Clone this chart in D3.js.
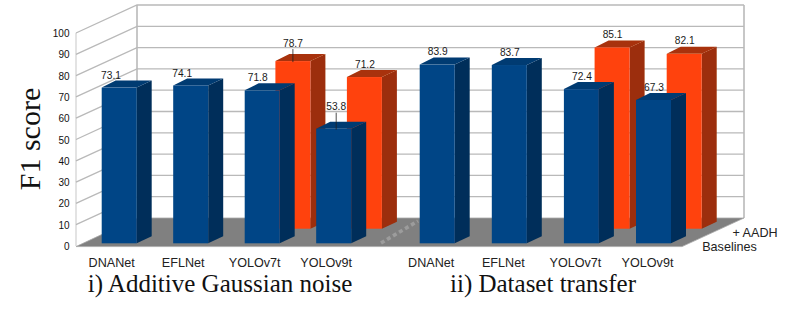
<!DOCTYPE html>
<html><head><meta charset="utf-8">
<script src="https://cdn.jsdelivr.net/npm/d3@7"></script>
<style>html,body{margin:0;padding:0;background:#fff}svg{display:block}</style>
</head><body><svg id="c" width="793" height="317"></svg>
<script>
const categories = ["DNANet","EFLNet","YOLOv7t","YOLOv9t"];
const yTicks = [0,10,20,30,40,50,60,70,80,90,100];
const baselinesNoise = [73.1,74.1,71.8,53.8];
const baselinesTransfer = [83.9,83.7,72.4,67.3];
const aadhCategories = ["YOLOv7t","YOLOv9t"];
const aadhNoise = [78.7,71.2];
const aadhTransfer = [85.1,82.1];
const seriesNames = ["Baselines","+ AADH"];
const panelTitles = ["i) Additive Gaussian noise","ii) Dataset transfer"];
const yTitle = "F1 score";

const svg = d3.select("#c");
const sans = "'Liberation Sans',Arial,sans-serif", serif = "'Liberation Serif','Times New Roman',serif";
const defs = svg.append("defs");
defs.append("filter").attr("id","soft").append("feGaussianBlur").attr("stdDeviation",0.45);

const y = d3.scaleLinear().domain([0,100]).range([246,33]);
const wall = {dx:61, dy:-28};
const floorRight = 682;
const x1 = d3.scalePoint().domain(categories).range([101.7,316.2]);
const x2 = d3.scalePoint().domain(categories).range([419.7,636]);
const barW = 35, side = {dx:15, dy:-7};
const planes = {base:{dx:0,dy:-2.7,front:"#004586",side:"#002f5a",top:"#003b72"},
                aadh:{dx:30.7,dy:-17.3,front:"#ff420e",side:"#9c2d08",top:"#a83008"}};

const g = svg.append("g").attr("filter","url(#soft)");
const grid = "#b9b9b9";
g.append("path").attr("d",`M${wall.dx+76} ${y(100)+wall.dy}V${y(0)+wall.dy}`).attr("stroke",grid).attr("stroke-width",1.6);
g.append("path").attr("d",`M76 ${y(100)}V${y(0)}`).attr("stroke","#d0d0d0").attr("stroke-width",1.2);
g.append("path").attr("d",`M744 ${y(100)+wall.dy}V${y(0)+wall.dy}`).attr("stroke",grid).attr("stroke-width",1.6);
g.selectAll(".grid").data(yTicks.slice(1)).join("path").attr("class","grid").attr("fill","none")
  .attr("stroke",grid).attr("stroke-width",1.3)
  .attr("d",d=>`M76 ${y(d)}L${76+wall.dx} ${y(d)+wall.dy}H744`);
g.append("path").attr("fill","#808080").attr("stroke","#a8a8a8").attr("stroke-width",0.8)
  .attr("d",`M76 ${y(0)+0.6}L${76+wall.dx} ${y(0)+wall.dy}H744L${floorRight} ${y(0)+0.6}Z`);
g.append("path").attr("d","M381 243L418 221").attr("stroke","#9c9c9c").attr("stroke-width",3.6).attr("stroke-dasharray","4 3").attr("fill","none");

function bar(sel,xv,v,p){
  const l=xv+p.dx, r=l+barW, b=y(0)+p.dy, t=y(v)+p.dy;
  const a=sel.append("g");
  a.append("path").attr("fill",p.side).attr("d",`M${r} ${t}L${r+side.dx} ${t+side.dy}V${b+side.dy}L${r} ${b}Z`);
  a.append("path").attr("fill",p.top).attr("d",`M${l} ${t}L${l+side.dx-1} ${t+side.dy}H${r+side.dx}L${r} ${t}Z`);
  a.append("rect").attr("x",l).attr("y",t).attr("width",barW).attr("height",b-t).attr("fill",p.front);
}
aadhCategories.forEach((c,i)=>{ bar(g,x1(c),aadhNoise[i],planes.aadh); });
aadhCategories.forEach((c,i)=>{ bar(g,x2(c),aadhTransfer[i],planes.aadh); });
categories.forEach((c,i)=>{ bar(g,x1(c),baselinesNoise[i],planes.base); });
categories.forEach((c,i)=>{ bar(g,x2(c),baselinesTransfer[i],planes.base); });

function label(xv,v,p,dx,dy,leader){
  const cx=xv+p.dx+dx, ty=y(v)+p.dy;
  if(leader) svg.append("path").attr("d",`M${cx} ${ty+dy+6}V${ty+1}`).attr("stroke","#222").attr("stroke-width",0.8);
  svg.append("text").attr("x",cx).attr("y",ty+dy).attr("dy","0.35em").attr("text-anchor","middle")
    .attr("font-family",sans).attr("font-size",10.2).attr("fill","#1a1a1a").text(v.toFixed(1));
}
label(x1("DNANet"),baselinesNoise[0],planes.base,9.3,-12);
label(x1("EFLNet"),baselinesNoise[1],planes.base,9,-12.5);
label(x1("YOLOv7t"),baselinesNoise[2],planes.base,13,-13);
label(x1("YOLOv9t"),baselinesNoise[3],planes.base,20,-22,true);
label(x1("YOLOv7t"),aadhNoise[0],planes.aadh,17.5,-18,true);
label(x1("YOLOv9t"),aadhNoise[1],planes.aadh,18,-13);
categories.forEach((c,i)=>label(x2(c),baselinesTransfer[i],planes.base,18,-13));
aadhCategories.forEach((c,i)=>label(x2(c),aadhTransfer[i],planes.aadh,18,-13.5));

const txt=(x,yy,s,size,fam,anchor)=>svg.append("text").attr("x",x).attr("y",yy).attr("text-anchor",anchor||"middle")
  .attr("font-family",fam).attr("font-size",size).attr("fill","#111").text(s);
yTicks.forEach(d=>txt(69.5,y(d)+0.5,d,10,sans,"end").attr("dy","0.35em"));
const xLabels=(scale,shift)=>categories.forEach(c=>txt(scale(c)+barW/2+shift,266.5,c,12.6,sans).attr("fill","#222"));
xLabels(x1,-7.5); xLabels(x2,-6);
txt(755,236.5,seriesNames[1],12.6,sans).attr("fill","#222");
txt(729.5,250.5,seriesNames[0],12.6,sans).attr("fill","#222");
txt(220,292,panelTitles[0],25,serif);
txt(543,292,panelTitles[1],25,serif);
svg.append("text").attr("transform","translate(40,139) rotate(-90)").attr("text-anchor","middle")
  .attr("font-family",serif).attr("font-size",30).attr("fill","#111").text(yTitle);
</script></body></html>
